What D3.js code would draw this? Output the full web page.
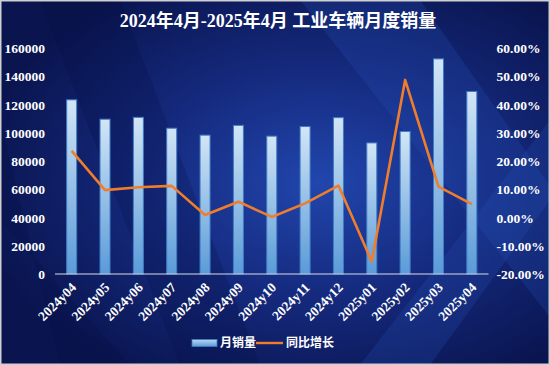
<!DOCTYPE html>
<html>
<head>
<meta charset="utf-8">
<script src="https://cdn.jsdelivr.net/npm/d3@7/dist/d3.min.js"></script>
<style>
  body { margin: 0; background: #fff; }
  text { font-family: "Liberation Serif", "DejaVu Serif", "Noto Sans CJK SC", serif; }
</style>
</head>
<body>
<script>
const w = 550;
const h = 365;

const months = ["2024y04", "2024y05", "2024y06", "2024y07", "2024y08", "2024y09", "2024y10",
                "2024y11", "2024y12", "2025y01", "2025y02", "2025y03", "2025y04"];
const sales = [123300, 109600, 110900, 103200, 98300, 105200, 97600,
               104400, 110700, 92800, 100900, 152300, 129200];
const growth = [23.6, 9.7, 10.7, 11.2, 0.9, 5.6, 0.2, 5.0, 11.3, -15.6, 48.7, 10.9, 4.7];
const leftTicks = [0, 20000, 40000, 60000, 80000, 100000, 120000, 140000, 160000];
const rightTicks = [-20, -10, 0, 10, 20, 30, 40, 50, 60];

const title = "2024年4月-2025年4月 工业车辆月度销量";
const barName = "月销量";
const lineName = "同比增长";
const lineColor = "#f07d2c";

const svg = d3.select("body")
              .append("svg")
              .attr("width", w)
              .attr("height", h);

const defs = svg.append("defs");

const bg = defs.append("radialGradient")
  .attr("id", "bg")
  .attr("cx", "58%").attr("cy", "50%").attr("r", "62%");
bg.append("stop").attr("offset", "0%").attr("stop-color", "#2146ad");
bg.append("stop").attr("offset", "50%").attr("stop-color", "#152a7e");
bg.append("stop").attr("offset", "100%").attr("stop-color", "#0a1550");

const barGrad = defs.append("linearGradient")
  .attr("id", "barGrad")
  .attr("x1", 0).attr("y1", 0).attr("x2", 0).attr("y2", 1);
barGrad.append("stop").attr("offset", "0%").attr("stop-color", "#d2e5f6");
barGrad.append("stop").attr("offset", "100%").attr("stop-color", "#5a9bd8");

const legGrad = defs.append("linearGradient")
  .attr("id", "legGrad")
  .attr("x1", 0).attr("y1", 0).attr("x2", 0).attr("y2", 1);
legGrad.append("stop").attr("offset", "0%").attr("stop-color", "#b9d6f1");
legGrad.append("stop").attr("offset", "100%").attr("stop-color", "#5a9bd8");

// background + frame
svg.append("rect")
   .attr("x", 0).attr("y", 0)
   .attr("width", w).attr("height", h)
   .attr("fill", "url(#bg)");

// diagonal light streaks
const streaks = [
  [[40, 0], [120, 0], [260, 365], [180, 365]],
  [[300, 0], [420, 0], [560, 200], [560, 330]],
  [[0, 120], [0, 220], [130, 365], [60, 365]],
  [[360, 365], [550, 120], [550, 200], [430, 365]]
];
svg.append("g")
   .selectAll("polygon")
   .data(streaks)
   .enter()
   .append("polygon")
   .attr("points", d => d.map(p => p.join(",")).join(" "))
   .attr("fill", (d, i) => i % 2 ? "#2a55c0" : "#060e40")
   .attr("opacity", 0.22);

svg.append("rect")
   .attr("x", 0.75).attr("y", 0.75)
   .attr("width", w - 1.5).attr("height", h - 1.5)
   .attr("fill", "none")
   .attr("stroke", "#d0d0d0")
   .attr("stroke-width", 1.5);

const plotLeft = 55, plotRight = 488.5, plotTop = 48, plotBottom = 274;

const x = d3.scaleBand()
  .domain(months)
  .range([plotLeft, plotRight])
  .paddingInner(0.7)
  .paddingOuter(0.35);

const yL = d3.scaleLinear().domain([0, 160000]).range([plotBottom, plotTop]);
const yR = d3.scaleLinear().domain([-20, 60]).range([plotBottom, plotTop]);

// bars
svg.append("g")
   .selectAll("rect")
   .data(sales)
   .enter()
   .append("rect")
   .attr("x", (d, i) => x(months[i]))
   .attr("y", d => yL(d))
   .attr("width", x.bandwidth())
   .attr("height", d => plotBottom - yL(d))
   .attr("fill", "url(#barGrad)")
   .attr("stroke", "#3f7cc4")
   .attr("stroke-width", 1);

// axis line
svg.append("line")
   .attr("x1", plotLeft).attr("x2", plotRight)
   .attr("y1", plotBottom).attr("y2", plotBottom)
   .attr("stroke", "#d8dce8")
   .attr("stroke-width", 1.2);

// growth line
const line = d3.line()
  .x((d, i) => x(months[i]) + x.bandwidth() / 2)
  .y(d => yR(d));

svg.append("path")
   .datum(growth)
   .attr("d", line)
   .attr("fill", "none")
   .attr("stroke", lineColor)
   .attr("stroke-width", 2.6)
   .attr("stroke-linejoin", "round");

// left axis
const axL = svg.append("g")
  .attr("transform", `translate(${plotLeft - 7},0)`)
  .call(d3.axisLeft(yL).tickValues(leftTicks).tickSize(0).tickFormat(d3.format("d")));
axL.select(".domain").remove();
axL.selectAll("text")
   .attr("fill", "#fff")
   .attr("font-size", 13.5)
   .attr("font-weight", "bold")
   .attr("dy", "0.35em");

// right axis
const axR = svg.append("g")
  .attr("transform", `translate(${plotRight + 5},0)`)
  .call(d3.axisRight(yR).tickValues(rightTicks).tickSize(0).tickFormat(d => d.toFixed(2) + "%"));
axR.select(".domain").remove();
axR.selectAll("text")
   .attr("fill", "#fff")
   .attr("font-size", 13.5)
   .attr("font-weight", "bold")
   .attr("dy", "0.35em");

// x labels
const axX = svg.append("g")
  .attr("transform", `translate(0,${plotBottom})`)
  .call(d3.axisBottom(x).tickSize(0));
axX.select(".domain").remove();
axX.selectAll("text")
   .attr("fill", "#fff")
   .attr("font-size", 13.5)
   .attr("font-weight", "bold")
   .attr("text-anchor", "end")
   .attr("transform", "translate(2,11) rotate(-45)")
   .attr("dy", "0.35em")
   .attr("y", 0).attr("x", 0);

// title
svg.append("text")
   .attr("x", 278)
   .attr("y", 27)
   .attr("text-anchor", "middle")
   .attr("fill", "#fff")
   .attr("font-size", 18)
   .attr("font-weight", "bold")
   .text(title);

// legend
const leg = svg.append("g").attr("transform", "translate(0,343)");
leg.append("rect")
   .attr("x", 192).attr("y", -3.5)
   .attr("width", 25).attr("height", 7)
   .attr("fill", "url(#legGrad)")
   .attr("stroke", "#3f7cc4")
   .attr("stroke-width", 0.8);
leg.append("text")
   .attr("x", 220).attr("y", 0).attr("dy", "0.35em")
   .attr("fill", "#fff").attr("font-size", 12).attr("font-weight", "bold")
   .text(barName);
leg.append("line")
   .attr("x1", 256).attr("x2", 283)
   .attr("y1", 0).attr("y2", 0)
   .attr("stroke", lineColor)
   .attr("stroke-width", 2.4);
leg.append("text")
   .attr("x", 286).attr("y", 0).attr("dy", "0.35em")
   .attr("fill", "#fff").attr("font-size", 12).attr("font-weight", "bold")
   .text(lineName);
</script>
</body>
</html>
